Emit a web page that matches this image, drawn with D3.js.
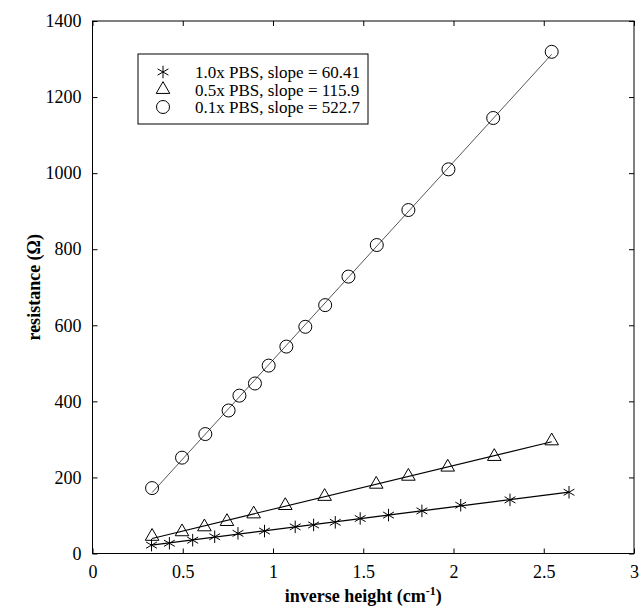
<!DOCTYPE html>
<html>
<head>
<meta charset="utf-8">
<script src="https://cdn.jsdelivr.net/npm/d3@7"></script>
<style>
  body { margin: 0; background: #fff; }
  text { font-family: "Liberation Serif", "Times New Roman", serif; fill: #000; }
</style>
</head>
<body>
<svg id="chart" width="641" height="610"></svg>
<script>
// tick labels
const xTicks = [0, 0.5, 1, 1.5, 2, 2.5, 3]
const yTicks = [0, 200, 400, 600, 800, 1000, 1200, 1400]

// 1.0x PBS
const pbs10X = [0.327, 0.426, 0.555, 0.677, 0.806, 0.953, 1.123, 1.225, 1.345, 1.483, 1.64, 1.825, 2.04, 2.313, 2.64]
const pbs10Y = [22, 27, 35, 44, 53, 59, 70, 75, 82, 92, 101, 112, 127, 141, 161]

// 0.5x PBS
const pbs05X = [0.33, 0.496, 0.62, 0.745, 0.893, 1.068, 1.286, 1.572, 1.75, 1.968, 2.226, 2.544]
const pbs05Y = [45, 57, 70, 84, 104, 126, 150, 182, 203, 227, 255, 296]

// 0.1x PBS
const pbs01X = [0.33, 0.496, 0.625, 0.754, 0.814, 0.90, 0.976, 1.074, 1.179, 1.289, 1.418, 1.575, 1.75, 1.972, 2.22, 2.544]
const pbs01Y = [172, 252, 314, 376, 415, 447, 494, 544, 596, 653, 728, 811, 903, 1010, 1145, 1319]

const labels = ["1.0x PBS, slope = 60.41", "0.5x PBS, slope = 115.9", "0.1x PBS, slope = 522.7"]
const markers = ["star", "triangle", "circle"]

const plot = { left: 92.5, right: 634, top: 21, bottom: 553.5 }

const svg = d3.select("#chart")

const x = d3.scaleLinear().domain([0, 3]).range([plot.left, plot.right])
const y = d3.scaleLinear().domain([0, 1400]).range([plot.bottom, plot.top])

const series = [
  { xs: pbs10X, ys: pbs10Y, label: labels[0], marker: markers[0], lineColor: "#000", lineWidth: 1.3 },
  { xs: pbs05X, ys: pbs05Y, label: labels[1], marker: markers[1], lineColor: "#000", lineWidth: 1.1 },
  { xs: pbs01X, ys: pbs01Y, label: labels[2], marker: markers[2], lineColor: "#444", lineWidth: 0.9 }
]

// least squares line through a series
const fit = (xs, ys) => {
  const mx = d3.mean(xs), my = d3.mean(ys)
  let num = 0, den = 0
  xs.forEach((v, i) => { num += (v - mx) * (ys[i] - my); den += (v - mx) * (v - mx) })
  const m = num / den
  return { m, b: my - m * mx }
}

const symbolFor = (name) => {
  if (name === "star") return d3.symbol(d3.symbolAsterisk, 110)()
  if (name === "triangle") return d3.symbol(d3.symbolTriangle, 80)()
  return d3.symbol(d3.symbolCircle, Math.PI * 6.5 * 6.5)()
}

// frame
svg.append("rect")
  .attr("x", plot.left).attr("y", plot.top)
  .attr("width", plot.right - plot.left).attr("height", plot.bottom - plot.top)
  .attr("fill", "none").attr("stroke", "#000").attr("stroke-width", 1)

// axes, ticks pointing inwards like matlab
const tickLen = 5
const xAxisB = d3.axisBottom(x).tickValues(xTicks).tickSize(-tickLen).tickPadding(12).tickFormat(d3.format("~g"))
const xAxisT = d3.axisTop(x).tickValues(xTicks).tickSize(-tickLen).tickFormat("")
const yAxisL = d3.axisLeft(y).tickValues(yTicks).tickSize(-tickLen).tickPadding(11).tickFormat(d3.format("d"))
const yAxisR = d3.axisRight(y).tickValues(yTicks).tickSize(-tickLen).tickFormat("")

const styleAxis = (g) => {
  g.select(".domain").remove()
  g.selectAll("line").attr("stroke", "#000")
  g.selectAll("text").style("font-family", "'Liberation Serif', serif").style("font-size", "18px").attr("fill", "#000")
}

svg.append("g").attr("transform", `translate(0,${plot.bottom})`).call(xAxisB).call(styleAxis)
svg.append("g").attr("transform", `translate(0,${plot.top})`).call(xAxisT).call(styleAxis)
svg.append("g").attr("transform", `translate(${plot.left},0)`).call(yAxisL).call(styleAxis)
svg.append("g").attr("transform", `translate(${plot.right},0)`).call(yAxisR).call(styleAxis)

// axis labels
const xLab = svg.append("text")
  .attr("x", (plot.left + plot.right) / 2).attr("y", 602)
  .attr("text-anchor", "middle")
  .style("font-size", "18px").style("font-weight", "bold")
xLab.append("tspan").text("inverse height (cm")
xLab.append("tspan").attr("dy", -7).style("font-size", "12px").text("-1")
xLab.append("tspan").attr("dy", 7).text(")")

svg.append("text")
  .attr("transform", `translate(40,${(plot.top + plot.bottom) / 2}) rotate(-90)`)
  .attr("text-anchor", "middle")
  .style("font-size", "18px").style("font-weight", "bold")
  .text("resistance (Ω)")

// fit lines and markers
series.forEach(s => {
  const { m, b } = fit(s.xs, s.ys)
  const x0 = d3.min(s.xs), x1 = d3.max(s.xs)
  svg.append("path")
    .datum([[x0, m * x0 + b], [x1, m * x1 + b]])
    .attr("d", d3.line().x(d => x(d[0])).y(d => y(d[1])))
    .attr("fill", "none").attr("stroke", s.lineColor).attr("stroke-width", s.lineWidth)

  svg.append("g").selectAll("path")
    .data(s.xs.map((v, i) => [v, s.ys[i]]))
    .join("path")
    .attr("transform", d => `translate(${x(d[0])},${y(d[1])})`)
    .attr("d", symbolFor(s.marker))
    .attr("fill", "none").attr("stroke", "#000").attr("stroke-width", 1)
})

// legend
const legend = { x: 138, y: 54, w: 230, h: 70, rowH: 17.5 }
svg.append("rect")
  .attr("x", legend.x).attr("y", legend.y).attr("width", legend.w).attr("height", legend.h)
  .attr("fill", "#fff").attr("stroke", "#000").attr("stroke-width", 1)

series.forEach((s, i) => {
  const cy = legend.y + 18 + i * legend.rowH
  svg.append("path")
    .attr("transform", `translate(${legend.x + 25},${cy})`)
    .attr("d", symbolFor(s.marker))
    .attr("fill", "none").attr("stroke", "#000").attr("stroke-width", 1)
  svg.append("text")
    .attr("x", legend.x + 57).attr("y", cy + 6)
    .style("font-size", "17px")
    .text(s.label)
})
</script>
</body>
</html>
